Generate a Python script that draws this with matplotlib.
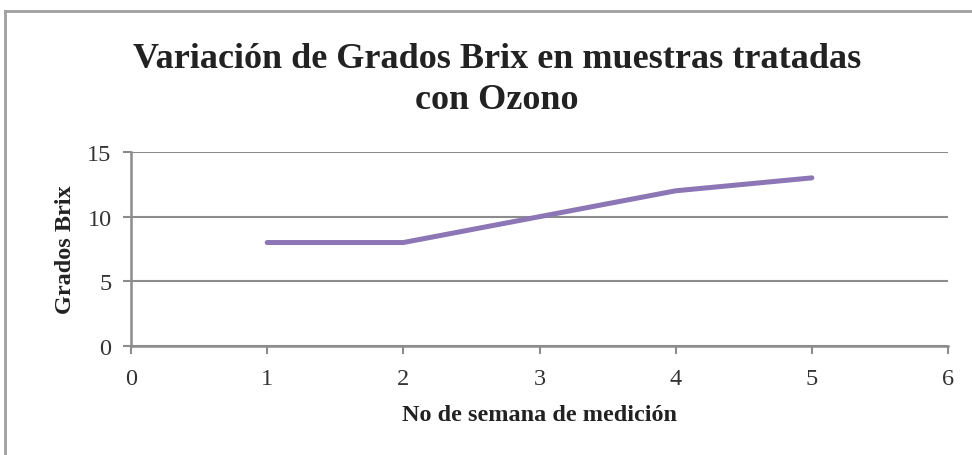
import matplotlib
matplotlib.use("Agg")
import matplotlib.pyplot as plt
from matplotlib.lines import Line2D

semanas = [1, 2, 3, 4, 5]
brix = [8, 8, 10, 12, 13]
x_ticks = [0, 1, 2, 3, 4, 5, 6]
y_ticks = [0, 5, 10, 15]

W, H = 972, 456
fig = plt.figure(figsize=(W / 100, H / 100), dpi=100)
plt.rcParams['font.family'] = ['Liberation Serif', 'DejaVu Serif']

ax = fig.add_axes([131 / W, 1 - 347 / H, (948 - 131) / W, (347 - 153) / H])
gray = '#8c8c8c'
ax.plot(semanas, brix, color='#8c76b6', lw=3.6, solid_capstyle='round',
        solid_joinstyle='round', zorder=3)
ax.set_xlim(0, 6)
ax.set_ylim(0, 15)
ax.set_xticks(x_ticks)
ax.set_yticks(y_ticks)
ax.yaxis.grid(True, color=gray, lw=1.5)
ax.set_axisbelow(True)
for s in ['top', 'right']:
    ax.spines[s].set_visible(False)
for s in ['left', 'bottom']:
    ax.spines[s].set_color(gray)
    ax.spines[s].set_linewidth(1.8)
ax.tick_params(axis='both', colors=gray, width=1.5, length=6, labelsize=17.5,
               labelcolor='#333333')
ax.tick_params(axis='x', pad=10)
ax.tick_params(axis='y', pad=8)
ax.set_xlabel('No de semana de medición', fontsize=17.5, fontweight='bold',
              color='#222222', labelpad=11)
ax.set_ylabel('Grados Brix', fontsize=17.5, fontweight='bold', color='#222222',
              labelpad=8)
fig.text(497 / W, 1 - 80 / H, 'Variación de Grados Brix en muestras tratadas\ncon Ozono',
         ha='center', va='center', fontsize=26, fontweight='bold', color='#222222',
         linespacing=1.32)

# outer frame (left and top edges)
fig.add_artist(Line2D([5 / W, 5 / W], [0, 1 - 12 / H], color='#a0a0a0', lw=2,
                      transform=fig.transFigure))
fig.add_artist(Line2D([5 / W, 1], [1 - 12 / H, 1 - 12 / H], color='#a0a0a0', lw=2,
                      transform=fig.transFigure))

fig.savefig('out.png', dpi=100)
